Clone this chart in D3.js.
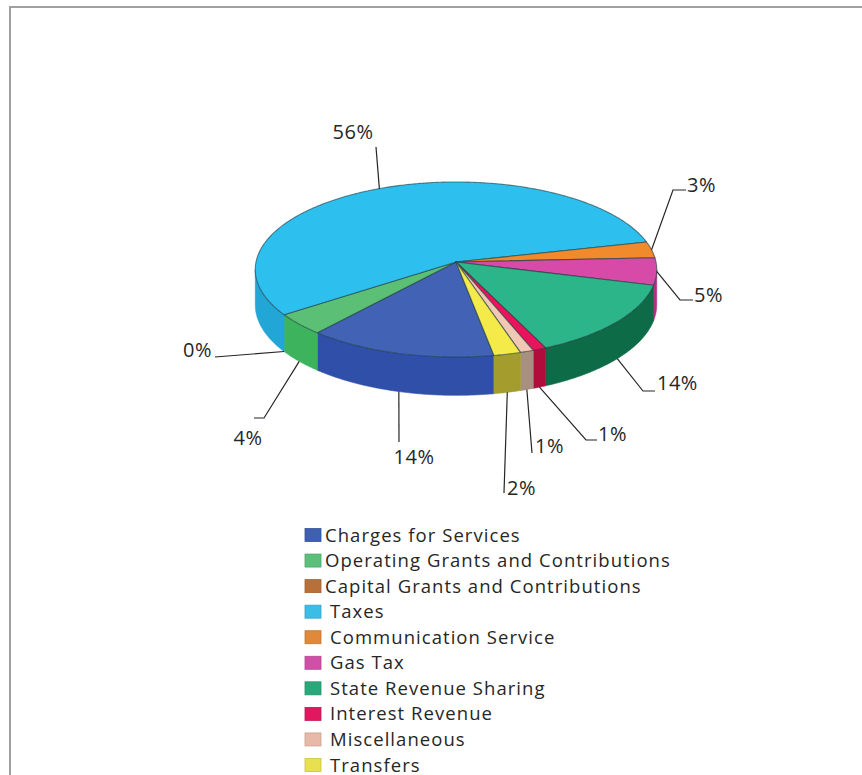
<!DOCTYPE html>
<html>
<head>
<meta charset="utf-8">
<script src="https://cdn.jsdelivr.net/npm/d3@7"></script>
<style>
  body { margin: 0; background: #ffffff; }
  svg { display: block; }
</style>
</head>
<body>
<svg id="chart" width="862" height="775"></svg>
<script>
// Revenue sources, in percent of total
const categories = [
  "Charges for Services",
  "Operating Grants and Contributions",
  "Capital Grants and Contributions",
  "Taxes",
  "Communication Service",
  "Gas Tax",
  "State Revenue Sharing",
  "Interest Revenue",
  "Miscellaneous",
  "Transfers"
];
const percentValues = [14, 4, 0, 56, 3, 5, 14, 1, 1, 2];

// Face colours (top) and wall colours (side) for each slice
const topColors  = ["#4262b5", "#5cbf76", "#c0703a", "#2dc0ef", "#f08a2c", "#d84aa8", "#2db58a", "#e8145c", "#f2c8b4", "#f4ea4a"];
const sideColors = ["#2f4fa8", "#3db35e", "#9a5428", "#22a6d6", "#c86a18", "#b03088", "#0e6b47", "#b00c3c", "#a89080", "#a59c2e"];
const legendColors = ["#3f5fb0", "#5cbf7a", "#b8703a", "#3bbde8", "#e0893a", "#d050a8", "#2aa87a", "#e01860", "#e8b8a8", "#e8e050"];

const svg = d3.select("#chart");

// Frame
svg.append("path")
  .attr("d", "M10,775 L10,7 L862,7")
  .attr("fill", "none")
  .attr("stroke", "#a0a0a0")
  .attr("stroke-width", 2);

// Tilted pie geometry with mild perspective
const cx = 456, cy = 262, rx = 200, ry = 86.9, persp = 0.0857, depth = 35;
const firstSliceAngle = 170; // degrees clockwise from 12 o'clock

const pie = d3.pie().sort(null).value(d => d)
  .startAngle(firstSliceAngle * Math.PI / 180)
  .endAngle((firstSliceAngle + 360) * Math.PI / 180);
const arcs = pie(percentValues);

function proj(theta, z) {
  const u = Math.sin(theta), v = -Math.cos(theta);
  const w = 1 - persp * v;
  return [cx + rx * u / w, cy + ry * v / w + z * depth / w];
}
function depthOf(theta) { return -Math.cos(theta); }

function sample(a0, a1, z) {
  const n = Math.max(2, Math.ceil(Math.abs(a1 - a0) / 0.01));
  const pts = [];
  for (let i = 0; i <= n; i++) pts.push(proj(a0 + (a1 - a0) * i / n, z));
  return pts;
}

const line = d3.line();
const pieG = svg.append("g");

// Outer walls: only the arc between the two silhouette angles faces the viewer
const silA = Math.acos(-persp), silB = 2 * Math.PI - Math.acos(-persp);
const wallRanges = [[silA, silB], [silA + 2 * Math.PI, silB + 2 * Math.PI]];
arcs.forEach((a, i) => {
  wallRanges.forEach(([s0, s1]) => {
    const t0 = Math.max(a.startAngle, s0), t1 = Math.min(a.endAngle, s1);
    if (t1 - t0 <= 1e-4) return;
    const pts = sample(t0, t1, 0).concat(sample(t1, t0, 1));
    pieG.append("path")
      .attr("d", line(pts) + "Z")
      .attr("fill", sideColors[i])
      .attr("stroke", sideColors[i])
      .attr("stroke-width", 0.6);
  });
});

// Top faces
arcs.forEach((a, i) => {
  if (a.endAngle - a.startAngle <= 1e-6) return;
  const pts = [[cx, cy]].concat(sample(a.startAngle, a.endAngle, 0));
  pieG.append("path")
    .attr("d", line(pts) + "Z")
    .attr("fill", topColors[i])
    .attr("stroke", "#1d3b40")
    .attr("stroke-opacity", 0.6)
    .attr("stroke-width", 1.1)
    .attr("stroke-linejoin", "round");
});

// Data labels with leader lines
const labelLayout = [
  { pts: [[399, 442]],             tx: 414, ty: 464, anchor: "middle" },
  { pts: [[264, 418], [254, 418]], tx: 248, ty: 445, anchor: "middle" },
  { pts: [[215, 357]],             tx: 212, ty: 357, anchor: "end" },
  { pts: [[376, 147]],             tx: 353, ty: 139, anchor: "middle" },
  { pts: [[673, 190], [686, 190]], tx: 687, ty: 192, anchor: "start" },
  { pts: [[680, 300], [693, 300]], tx: 694, ty: 302, anchor: "start" },
  { pts: [[643, 391], [655, 391]], tx: 657, ty: 390, anchor: "start" },
  { pts: [[586, 440], [597, 440]], tx: 598, ty: 441, anchor: "start" },
  { pts: [[532, 453]],             tx: 535, ty: 453, anchor: "start" },
  { pts: [[504, 493]],             tx: 507, ty: 495, anchor: "start" }
];

const labelG = svg.append("g");
arcs.forEach((a, i) => {
  const mid = (a.startAngle + a.endAngle) / 2;
  const anchorPt = proj(mid, depthOf(mid) > 0.3 ? 1 : 0);
  const L = labelLayout[i];
  labelG.append("path")
    .attr("d", line([anchorPt].concat(L.pts)))
    .attr("fill", "none")
    .attr("stroke", "#262626")
    .attr("stroke-width", 1.2);
  labelG.append("text")
    .attr("x", L.tx).attr("y", L.ty)
    .attr("text-anchor", L.anchor)
    .attr("font-family", "'Open Sans', sans-serif")
    .attr("font-size", 20)
    .attr("letter-spacing", 0.5)
    .attr("fill", "#262626")
    .text(percentValues[i] + "%");
});

// Legend
const legendY = d3.scaleLinear().domain([0, categories.length - 1]).range([535, 765]);
const legendG = svg.append("g");
categories.forEach((name, i) => {
  const y = legendY(i);
  legendG.append("rect")
    .attr("x", 305).attr("y", y - 6.5)
    .attr("width", 16).attr("height", 13)
    .attr("fill", legendColors[i])
    .attr("stroke", d3.color(legendColors[i]).darker(0.4))
    .attr("stroke-width", 0.8);
  legendG.append("text")
    .attr("x", i < 3 ? 325 : 330)
    .attr("y", y + 6.5)
    .attr("font-family", "'Open Sans', sans-serif")
    .attr("font-size", 18.5)
    .attr("letter-spacing", 1.05)
    .attr("fill", "#262626")
    .text(name);
});
</script>
</body>
</html>
